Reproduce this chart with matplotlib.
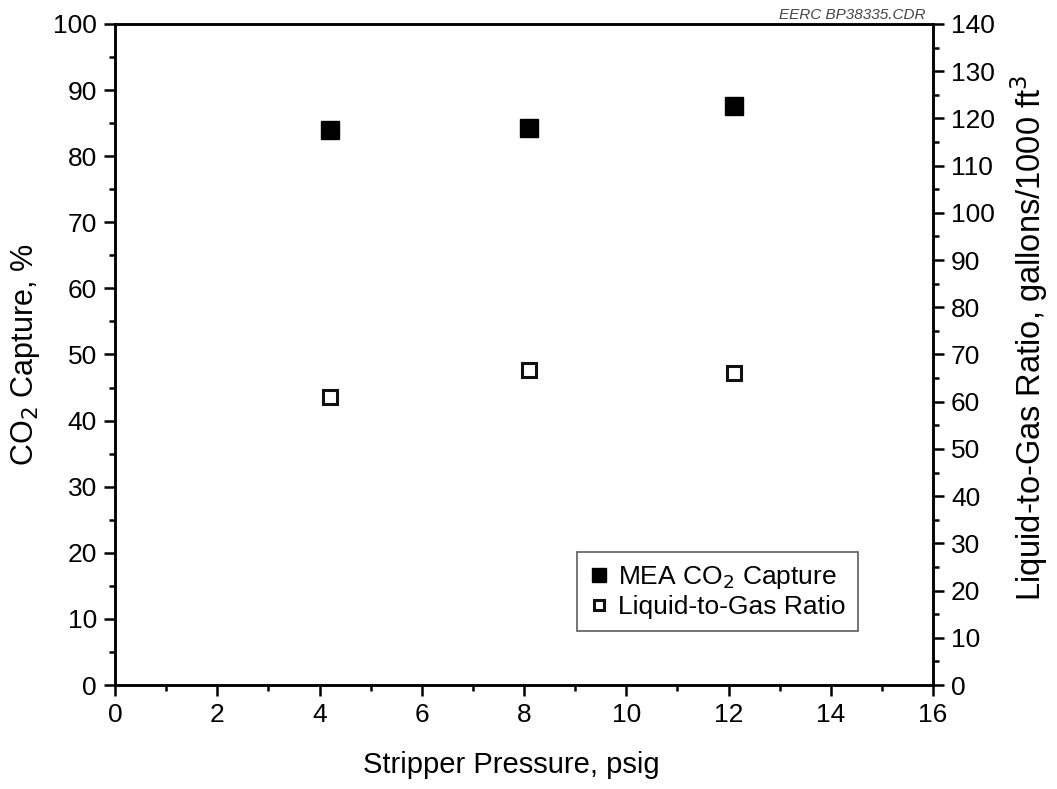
import numpy as np
import matplotlib.pyplot as plt
import matplotlib
from matplotlib.ticker import MultipleLocator

matplotlib.rcParams['font.family'] = ['Liberation Sans', 'DejaVu Sans']

# stripper pressure, psig
pressure = [4.2, 8.1, 12.1]
# MEA CO2 capture, %
capture = [84.0, 84.2, 87.6]
# liquid-to-gas ratio, gallons/1000 ft3
lg_ratio = [61.0, 66.7, 66.1]

fig = plt.figure(figsize=(10.57, 7.89), dpi=100)
ax = fig.add_axes([0.1088, 0.1318, 0.7739, 0.8378])
ax2 = ax.twinx()

h1, = ax.plot(pressure, capture, 's', color='black', markersize=12.5,
              linestyle='none', label='MEA CO$_2$ Capture')
h2, = ax2.plot(pressure, lg_ratio, 's', markerfacecolor='white',
               markeredgecolor='#111111', markeredgewidth=2.2, markersize=9.5,
               linestyle='none', label='Liquid-to-Gas Ratio')

ax.set_xlim(0, 16)
ax.set_ylim(0, 100)
ax2.set_ylim(0, 140)

ax.xaxis.set_major_locator(MultipleLocator(2))
ax.xaxis.set_minor_locator(MultipleLocator(1))
ax.yaxis.set_major_locator(MultipleLocator(10))
ax.yaxis.set_minor_locator(MultipleLocator(5))
ax2.yaxis.set_major_locator(MultipleLocator(10))
ax2.yaxis.set_minor_locator(MultipleLocator(5))

for a in (ax, ax2):
    for s in a.spines.values():
        s.set_linewidth(1.8)
    a.tick_params(which='major', length=8, width=1.8, labelsize=19, direction='out', pad=5)
    a.tick_params(which='minor', length=4, width=1.8, direction='out')
ax.tick_params(top=False, which='both')

ax.set_xlabel('Stripper Pressure, psig', fontsize=21)
ax.xaxis.set_label_coords(0.485, -0.1)
ax.set_ylabel('CO$_2$ Capture, %', fontsize=22, labelpad=8)
ax2.set_ylabel('Liquid-to-Gas Ratio, gallons/1000 ft$^3$', fontsize=23.5)
ax2.yaxis.set_label_coords(1.092, 0.526)

leg = ax.legend(handles=[h1, h2], loc='lower right', bbox_to_anchor=(0.908, 0.082),
                borderaxespad=0, fontsize=19, frameon=True, fancybox=False,
                edgecolor='#333333', handlelength=0.7, handletextpad=0.4,
                borderpad=0.45, labelspacing=0.15, markerscale=0.8)
leg.get_frame().set_linewidth(1.2)

fig.text(0.876, 0.972, 'EERC BP38335.CDR', fontsize=11, style='italic',
         color='#444444', ha='right', va='bottom')

plt.savefig('out.png', dpi=100)
